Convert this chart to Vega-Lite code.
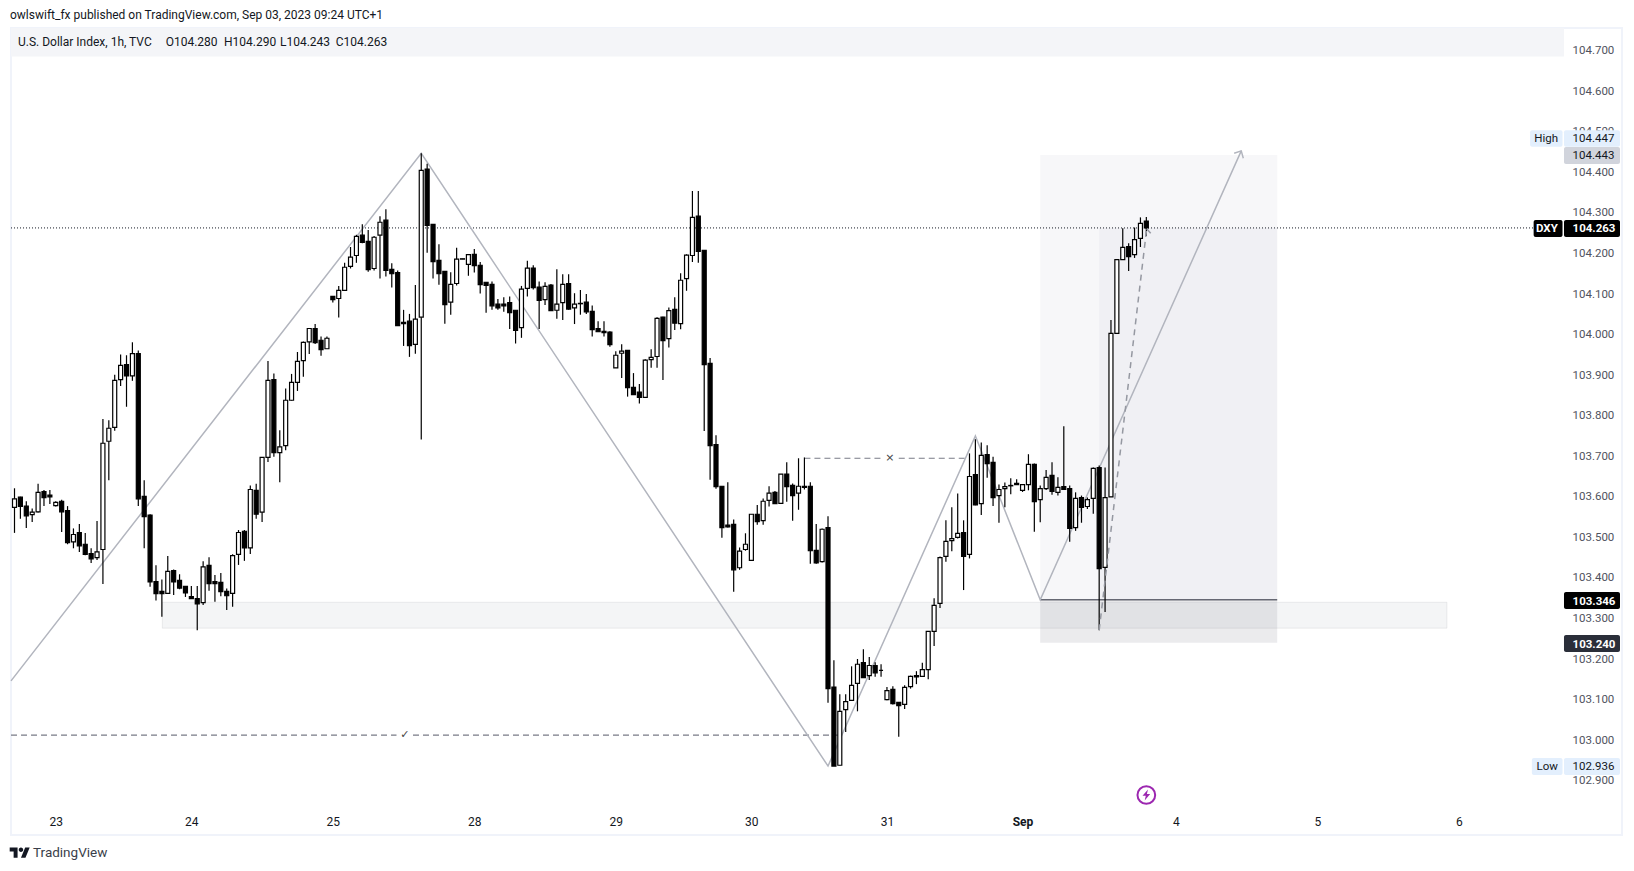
{"$schema":"https://vega.github.io/schema/vega-lite/v6.json","width":1611,"height":807,"autosize":{"type":"none"},"padding":{"left":11,"top":28,"right":12,"bottom":36},"background":"#ffffff","config":{"view":{"stroke":"#f0f3fa","strokeWidth":2},"text":{"font":"Roboto"}},
"resolve":{"scale":{"fill":"independent","opacity":"independent"}},
"datasets":{"candles":[
{"t":0,"o":103.574,"h":103.621,"l":103.511,"c":103.595},{"t":1,"o":103.599,"h":103.6,"l":103.546,"c":103.576},{"t":2,"o":103.577,"h":103.589,"l":103.523,"c":103.553},{"t":3,"o":103.556,"h":103.571,"l":103.538,"c":103.562},{"t":4,"o":103.563,"h":103.632,"l":103.561,"c":103.611},{"t":5,"o":103.613,"h":103.617,"l":103.577,"c":103.598},{"t":6,"o":103.604,"h":103.617,"l":103.582,"c":103.6},{"t":7,"o":103.578,"h":103.589,"l":103.576,"c":103.586},{"t":8,"o":103.589,"h":103.593,"l":103.513,"c":103.563},{"t":9,"o":103.566,"h":103.577,"l":103.483,"c":103.487},
{"t":10,"o":103.489,"h":103.522,"l":103.473,"c":103.507},{"t":11,"o":103.512,"h":103.533,"l":103.464,"c":103.479},{"t":12,"o":103.483,"h":103.511,"l":103.456,"c":103.458},{"t":13,"o":103.46,"h":103.473,"l":103.437,"c":103.447},{"t":14,"o":103.45,"h":103.54,"l":103.444,"c":103.464},{"t":15,"o":103.47,"h":103.792,"l":103.385,"c":103.732},{"t":16,"o":103.737,"h":103.789,"l":103.641,"c":103.769},{"t":17,"o":103.771,"h":103.901,"l":103.763,"c":103.887},{"t":18,"o":103.889,"h":103.951,"l":103.873,"c":103.924},{"t":19,"o":103.926,"h":103.949,"l":103.822,"c":103.898},
{"t":20,"o":103.898,"h":103.981,"l":103.886,"c":103.953},{"t":21,"o":103.953,"h":103.961,"l":103.577,"c":103.595},{"t":22,"o":103.601,"h":103.641,"l":103.473,"c":103.551},{"t":23,"o":103.555,"h":103.557,"l":103.378,"c":103.39},{"t":24,"o":103.391,"h":103.431,"l":103.344,"c":103.361},{"t":25,"o":103.367,"h":103.396,"l":103.304,"c":103.361},{"t":26,"o":103.362,"h":103.454,"l":103.36,"c":103.416},{"t":27,"o":103.418,"h":103.421,"l":103.358,"c":103.39},{"t":28,"o":103.394,"h":103.409,"l":103.372,"c":103.375},{"t":29,"o":103.379,"h":103.38,"l":103.353,"c":103.363},
{"t":30,"o":103.354,"h":103.38,"l":103.348,"c":103.349},{"t":31,"o":103.349,"h":103.38,"l":103.271,"c":103.336},{"t":32,"o":103.339,"h":103.441,"l":103.333,"c":103.427},{"t":33,"o":103.431,"h":103.451,"l":103.368,"c":103.386},{"t":34,"o":103.391,"h":103.407,"l":103.341,"c":103.386},{"t":35,"o":103.389,"h":103.412,"l":103.355,"c":103.366},{"t":36,"o":103.367,"h":103.374,"l":103.321,"c":103.356},{"t":37,"o":103.362,"h":103.458,"l":103.329,"c":103.455},{"t":38,"o":103.458,"h":103.518,"l":103.432,"c":103.512},{"t":39,"o":103.515,"h":103.518,"l":103.442,"c":103.474},
{"t":40,"o":103.474,"h":103.628,"l":103.459,"c":103.618},{"t":41,"o":103.616,"h":103.632,"l":103.546,"c":103.557},{"t":42,"o":103.562,"h":103.697,"l":103.538,"c":103.697},{"t":43,"o":103.697,"h":103.935,"l":103.686,"c":103.887},{"t":44,"o":103.889,"h":103.904,"l":103.699,"c":103.709},{"t":45,"o":103.709,"h":103.764,"l":103.636,"c":103.723},{"t":46,"o":103.726,"h":103.867,"l":103.715,"c":103.838},{"t":47,"o":103.838,"h":103.903,"l":103.837,"c":103.882},{"t":48,"o":103.882,"h":103.957,"l":103.861,"c":103.934},{"t":49,"o":103.936,"h":103.983,"l":103.896,"c":103.981},
{"t":50,"o":103.982,"h":104.015,"l":103.952,"c":104.015},{"t":51,"o":104.015,"h":104.026,"l":103.977,"c":103.98},{"t":52,"o":103.986,"h":103.995,"l":103.948,"c":103.963},{"t":53,"o":103.965,"h":103.995,"l":103.965,"c":103.991},{"t":54,"o":104.094,"h":104.094,"l":104.079,"c":104.086},{"t":55,"o":104.089,"h":104.12,"l":104.042,"c":104.109},{"t":56,"o":104.109,"h":104.177,"l":104.108,"c":104.166},{"t":57,"o":104.168,"h":104.216,"l":104.163,"c":104.191},{"t":58,"o":104.195,"h":104.246,"l":104.177,"c":104.242},{"t":59,"o":104.245,"h":104.272,"l":104.225,"c":104.227},
{"t":60,"o":104.23,"h":104.258,"l":104.155,"c":104.16},{"t":61,"o":104.163,"h":104.243,"l":104.158,"c":104.24},{"t":62,"o":104.245,"h":104.292,"l":104.138,"c":104.277},{"t":63,"o":104.282,"h":104.309,"l":104.143,"c":104.158},{"t":64,"o":104.161,"h":104.176,"l":104.116,"c":104.15},{"t":65,"o":104.153,"h":104.158,"l":104.022,"c":104.022},{"t":66,"o":104.03,"h":104.061,"l":103.972,"c":104.027},{"t":67,"o":104.033,"h":104.051,"l":103.945,"c":103.973},{"t":68,"o":103.976,"h":104.122,"l":103.953,"c":104.038},{"t":69,"o":104.043,"h":104.447,"l":103.741,"c":104.405},
{"t":70,"o":104.408,"h":104.421,"l":104.202,"c":104.269},{"t":71,"o":104.272,"h":104.272,"l":104.138,"c":104.18},{"t":72,"o":104.183,"h":104.223,"l":104.123,"c":104.15},{"t":73,"o":104.156,"h":104.156,"l":104.027,"c":104.074},{"t":74,"o":104.08,"h":104.154,"l":104.049,"c":104.124},{"t":75,"o":104.126,"h":104.214,"l":104.121,"c":104.186},{"t":76,"o":104.186,"h":104.187,"l":104.186,"c":104.187},{"t":77,"o":104.173,"h":104.197,"l":104.145,"c":104.197},{"t":78,"o":104.198,"h":104.211,"l":104.153,"c":104.17},{"t":79,"o":104.171,"h":104.179,"l":104.101,"c":104.123},
{"t":80,"o":104.129,"h":104.129,"l":104.054,"c":104.121},{"t":81,"o":104.124,"h":104.131,"l":104.061,"c":104.071},{"t":82,"o":104.075,"h":104.088,"l":104.061,"c":104.066},{"t":83,"o":104.075,"h":104.092,"l":104.056,"c":104.071},{"t":84,"o":104.079,"h":104.094,"l":104.014,"c":104.054},{"t":85,"o":104.06,"h":104.06,"l":103.978,"c":104.01},{"t":86,"o":104.017,"h":104.12,"l":103.992,"c":104.112},{"t":87,"o":104.114,"h":104.182,"l":104.094,"c":104.164},{"t":88,"o":104.164,"h":104.171,"l":104.111,"c":104.116},{"t":89,"o":104.117,"h":104.131,"l":104.014,"c":104.084},
{"t":90,"o":104.086,"h":104.129,"l":104.073,"c":104.119},{"t":91,"o":104.122,"h":104.125,"l":104.058,"c":104.059},{"t":92,"o":104.06,"h":104.161,"l":104.039,"c":104.075},{"t":93,"o":104.079,"h":104.149,"l":104.036,"c":104.124},{"t":94,"o":104.126,"h":104.149,"l":104.061,"c":104.063},{"t":95,"o":104.066,"h":104.102,"l":104.026,"c":104.075},{"t":96,"o":104.076,"h":104.11,"l":104.049,"c":104.077},{"t":97,"o":104.08,"h":104.1,"l":104.051,"c":104.056},{"t":98,"o":104.057,"h":104.072,"l":103.995,"c":104.012},{"t":99,"o":104.015,"h":104.033,"l":104.007,"c":104.007},
{"t":100,"o":104.008,"h":104.033,"l":103.995,"c":104.005},{"t":101,"o":104.006,"h":104.008,"l":103.97,"c":103.975},{"t":102,"o":103.918,"h":103.959,"l":103.918,"c":103.949},{"t":103,"o":103.954,"h":103.976,"l":103.893,"c":103.959},{"t":104,"o":103.961,"h":103.961,"l":103.847,"c":103.869},{"t":105,"o":103.87,"h":103.905,"l":103.851,"c":103.852},{"t":106,"o":103.858,"h":103.878,"l":103.83,"c":103.845},{"t":107,"o":103.845,"h":103.939,"l":103.845,"c":103.937},{"t":108,"o":103.938,"h":103.964,"l":103.918,"c":103.944},{"t":109,"o":103.946,"h":104.043,"l":103.918,"c":104.04},
{"t":110,"o":104.043,"h":104.044,"l":103.888,"c":103.985},{"t":111,"o":103.99,"h":104.067,"l":103.968,"c":104.059},{"t":112,"o":104.062,"h":104.092,"l":104.011,"c":104.028},{"t":113,"o":104.027,"h":104.151,"l":104.013,"c":104.134},{"t":114,"o":104.138,"h":104.198,"l":104.108,"c":104.196},{"t":115,"o":104.195,"h":104.354,"l":104.179,"c":104.289},{"t":116,"o":104.292,"h":104.354,"l":104.177,"c":104.205},{"t":117,"o":104.208,"h":104.208,"l":103.762,"c":103.926},{"t":118,"o":103.929,"h":103.942,"l":103.642,"c":103.726},{"t":119,"o":103.729,"h":103.752,"l":103.62,"c":103.625},
{"t":120,"o":103.626,"h":103.626,"l":103.499,"c":103.524},{"t":121,"o":103.53,"h":103.636,"l":103.524,"c":103.526},{"t":122,"o":103.532,"h":103.544,"l":103.366,"c":103.42},{"t":123,"o":103.425,"h":103.475,"l":103.42,"c":103.466},{"t":124,"o":103.47,"h":103.51,"l":103.467,"c":103.483},{"t":125,"o":103.443,"h":103.557,"l":103.443,"c":103.557},{"t":126,"o":103.557,"h":103.58,"l":103.531,"c":103.539},{"t":127,"o":103.541,"h":103.596,"l":103.531,"c":103.589},{"t":128,"o":103.591,"h":103.626,"l":103.576,"c":103.609},{"t":129,"o":103.611,"h":103.614,"l":103.583,"c":103.583},
{"t":130,"o":103.584,"h":103.656,"l":103.584,"c":103.656},{"t":131,"o":103.656,"h":103.685,"l":103.588,"c":103.625},{"t":132,"o":103.628,"h":103.633,"l":103.541,"c":103.603},{"t":133,"o":103.609,"h":103.695,"l":103.568,"c":103.626},{"t":134,"o":103.626,"h":103.697,"l":103.618,"c":103.623},{"t":135,"o":103.626,"h":103.636,"l":103.435,"c":103.467},{"t":136,"o":103.468,"h":103.533,"l":103.435,"c":103.437},{"t":137,"o":103.44,"h":103.522,"l":103.438,"c":103.52},{"t":138,"o":103.524,"h":103.552,"l":103.092,"c":103.127},{"t":139,"o":103.131,"h":103.197,"l":102.936,"c":102.936},
{"t":140,"o":102.938,"h":103.113,"l":102.938,"c":103.071},{"t":141,"o":103.075,"h":103.113,"l":103.02,"c":103.095},{"t":142,"o":103.098,"h":103.182,"l":103.097,"c":103.135},{"t":143,"o":103.14,"h":103.2,"l":103.071,"c":103.187},{"t":144,"o":103.191,"h":103.224,"l":103.154,"c":103.154},{"t":145,"o":103.159,"h":103.205,"l":103.148,"c":103.184},{"t":146,"o":103.184,"h":103.192,"l":103.156,"c":103.166},{"t":147,"o":103.172,"h":103.187,"l":103.156,"c":103.172},{"t":148,"o":103.1,"h":103.131,"l":103.098,"c":103.122},{"t":149,"o":103.125,"h":103.133,"l":103.088,"c":103.09},
{"t":150,"o":103.093,"h":103.093,"l":103.008,"c":103.085},{"t":151,"o":103.088,"h":103.135,"l":103.077,"c":103.13},{"t":152,"o":103.132,"h":103.159,"l":103.127,"c":103.157},{"t":153,"o":103.159,"h":103.17,"l":103.138,"c":103.156},{"t":154,"o":103.157,"h":103.191,"l":103.156,"c":103.174},{"t":155,"o":103.174,"h":103.268,"l":103.15,"c":103.268},{"t":156,"o":103.268,"h":103.35,"l":103.232,"c":103.332},{"t":157,"o":103.337,"h":103.453,"l":103.326,"c":103.45},{"t":158,"o":103.453,"h":103.542,"l":103.44,"c":103.49},{"t":159,"o":103.492,"h":103.574,"l":103.466,"c":103.497},
{"t":160,"o":103.5,"h":103.608,"l":103.497,"c":103.51},{"t":161,"o":103.512,"h":103.542,"l":103.37,"c":103.453},{"t":162,"o":103.458,"h":103.707,"l":103.448,"c":103.65},{"t":163,"o":103.655,"h":103.742,"l":103.579,"c":103.58},{"t":164,"o":103.583,"h":103.734,"l":103.555,"c":103.702},{"t":165,"o":103.704,"h":103.727,"l":103.647,"c":103.682},{"t":166,"o":103.685,"h":103.699,"l":103.577,"c":103.598},{"t":167,"o":103.603,"h":103.63,"l":103.536,"c":103.618},{"t":168,"o":103.62,"h":103.635,"l":103.574,"c":103.625},{"t":169,"o":103.627,"h":103.646,"l":103.606,"c":103.628},
{"t":170,"o":103.633,"h":103.643,"l":103.629,"c":103.63},{"t":171,"o":103.616,"h":103.63,"l":103.612,"c":103.63},{"t":172,"o":103.63,"h":103.705,"l":103.616,"c":103.68},{"t":173,"o":103.68,"h":103.682,"l":103.514,"c":103.588},{"t":174,"o":103.593,"h":103.628,"l":103.537,"c":103.62},{"t":175,"o":103.62,"h":103.666,"l":103.617,"c":103.648},{"t":176,"o":103.653,"h":103.685,"l":103.605,"c":103.613},{"t":177,"o":103.611,"h":103.648,"l":103.603,"c":103.623},{"t":178,"o":103.625,"h":103.774,"l":103.618,"c":103.618},{"t":179,"o":103.62,"h":103.628,"l":103.489,"c":103.522},
{"t":180,"o":103.524,"h":103.611,"l":103.516,"c":103.596},{"t":181,"o":103.598,"h":103.603,"l":103.536,"c":103.574},{"t":182,"o":103.576,"h":103.598,"l":103.57,"c":103.593},{"t":183,"o":103.596,"h":103.672,"l":103.558,"c":103.67},{"t":184,"o":103.672,"h":103.677,"l":103.271,"c":103.423},{"t":185,"o":103.426,"h":103.672,"l":103.316,"c":103.598},{"t":186,"o":103.6,"h":104.036,"l":103.6,"c":104.003},{"t":187,"o":104.003,"h":104.185,"l":104.003,"c":104.185},{"t":188,"o":104.185,"h":104.262,"l":104.185,"c":104.215},{"t":189,"o":104.217,"h":104.225,"l":104.157,"c":104.192},
{"t":190,"o":104.197,"h":104.264,"l":104.189,"c":104.234},{"t":191,"o":104.237,"h":104.289,"l":104.216,"c":104.274},{"t":192,"o":104.28,"h":104.29,"l":104.243,"c":104.263}
],
"zones":[
{"kind":"header","t":-0.59,"t2":262.85,"p":104.756,"p2":104.686},
{"kind":"band","t":25.07,"t2":243,"p":103.34,"p2":103.276},
{"kind":"profit","t":174,"t2":214.2,"p":104.443,"p2":103.346},
{"kind":"progress","t":184,"t2":214.2,"p":104.263,"p2":103.346},
{"kind":"stop","t":174,"t2":214.2,"p":103.346,"p2":103.24}
],
"boxes":[
{"kind":"blue","t":257.1,"t2":262.6,"p":104.504,"p2":104.463},
{"kind":"blue","t":262.85,"t2":272.35,"p":104.504,"p2":104.463},
{"kind":"grey","t":262.85,"t2":272.35,"p":104.4625,"p2":104.4206},
{"kind":"black","t":257.7,"t2":262.6,"p":104.2825,"p2":104.2406},
{"kind":"black","t":262.85,"t2":272.35,"p":104.2825,"p2":104.2406},
{"kind":"black","t":262.85,"t2":272.35,"p":103.365,"p2":103.323},
{"kind":"navy","t":262.85,"t2":272.35,"p":103.259,"p2":103.217},
{"kind":"blue","t":257.4,"t2":262.6,"p":102.956,"p2":102.914},
{"kind":"blue","t":262.85,"t2":272.35,"p":102.956,"p2":102.914}
]},
"encoding":{"x":{"field":"t","type":"quantitative","scale":{"domain":[-0.594,272.69],"nice":false,"zero":false,"padding":0},"title":null,"axis":{"orient":"bottom","offset":-30,"title":null,"grid":false,"domain":false,"ticks":false,"labelFont":"Roboto","labelFontSize":12,"labelColor":"#131722","labelPadding":16,"labelBaseline":"middle","labelFlush":false,"labelOverlap":false,"labelBound":false,"values":[7,30,54,78,102,125,148,171,197,221,245],"labelFontWeight":{"condition":{"test":"datum.value==171","value":"bold"},"value":"normal"},"labelExpr":"datum.value==7?'23':datum.value==30?'24':datum.value==54?'25':datum.value==78?'28':datum.value==102?'29':datum.value==125?'30':datum.value==148?'31':datum.value==171?'Sep':datum.value==197?'4':datum.value==221?'5':'6'"}},"y":{"field":"p","type":"quantitative","scale":{"domain":[102.766,104.756],"nice":false,"zero":false},"title":null,"axis":{"orient":"right","offset":-58,"title":null,"grid":false,"domain":false,"ticks":false,"labelFont":"Roboto","labelFontSize":11.5,"labelColor":"#50535e","labelPadding":8,"labelOverlap":false,"labelBound":false,"labelFlush":false,"format":".3f","values":[102.9,103,103.1,103.2,103.3,103.4,103.5,103.6,103.7,103.8,103.9,104,104.1,104.2,104.3,104.4,104.5,104.6,104.7]}}},
"layer":[
{"data":{"name":"zones"},"mark":{"type":"rect"},"encoding":{"x2":{"field":"t2"},"y2":{"field":"p2"},"fill":{"field":"kind","type":"nominal","legend":null,"scale":{"type":"ordinal","domain":["header","band","profit","progress","stop"],"range":["#f4f5f8","#787b86","#6f7a96","#6f7a96","#787b86"]}},"opacity":{"field":"kind","type":"nominal","legend":null,"scale":{"type":"ordinal","domain":["header","band","profit","progress","stop"],"range":[1,0.08,0.06,0.05,0.15]}}}},
{"data":{"values":[{"t":25.07,"t2":243,"p":103.34,"p2":103.276}]},"mark":{"type":"rect","fillOpacity":0,"stroke":"#787b86","strokeOpacity":0.12,"strokeWidth":1},"encoding":{"x2":{"field":"t2"},"y2":{"field":"p2"}}},
{"data":{"values":[{"t":-0.59,"p":104.263},{"t":257.6,"p":104.263}]},"mark":{"type":"line","stroke":"#131722","strokeWidth":1,"strokeDash":[1,2]}},
{"data":{"values":[{"id":"a","t":174,"p":103.346},{"id":"a","t":214.2,"p":103.346}]},"mark":{"type":"line","stroke":"#666873","strokeWidth":1.5}},
{"data":{"values":[{"id":"x1","t":134,"p":103.695},{"id":"x1","t":147,"p":103.695},{"id":"x2","t":150,"p":103.695},{"id":"x2","t":161.6,"p":103.695},{"id":"c1","t":-0.59,"p":103.0125},{"id":"c1","t":64.8,"p":103.0125},{"id":"c2","t":67.6,"p":103.0125},{"id":"c2","t":139.7,"p":103.0125}]},"mark":{"type":"line","stroke":"#787b86","strokeWidth":1.2,"strokeDash":[6,4]},"encoding":{"detail":{"field":"id"}}},
{"data":{"values":[{"id":"zig","t":-0.59,"p":103.146},{"id":"zig","t":69,"p":104.447},{"id":"zig","t":138,"p":102.936},{"id":"zig","t":163,"p":103.75},{"id":"zig","t":174,"p":103.346},{"id":"zig","t":208.1,"p":104.453},{"id":"head","t":206.9,"p":104.447},{"id":"head","t":208.1,"p":104.453},{"id":"head","t":208.45,"p":104.435}]},"mark":{"type":"line","stroke":"#b2b5be","strokeWidth":1.5},"encoding":{"detail":{"field":"id"}}},
{"data":{"name":"candles"},"mark":{"type":"rule","stroke":"#000000","strokeWidth":1.2},"encoding":{"y":{"field":"h","type":"quantitative","scale":{"domain":[102.766,104.756],"nice":false,"zero":false},"title":null,"axis":{"orient":"right","offset":-58,"title":null,"grid":false,"domain":false,"ticks":false,"labelFont":"Roboto","labelFontSize":11.5,"labelColor":"#50535e","labelPadding":8,"labelOverlap":false,"labelBound":false,"labelFlush":false,"format":".3f","values":[102.9,103,103.1,103.2,103.3,103.4,103.5,103.6,103.7,103.8,103.9,104,104.1,104.2,104.3,104.4,104.5,104.6,104.7]}},"y2":{"field":"l"}}},
{"data":{"name":"candles"},"mark":{"type":"bar","size":4,"stroke":"#000000","strokeWidth":1.2,"orient":"vertical"},"encoding":{"y":{"field":"o","type":"quantitative","scale":{"domain":[102.766,104.756],"nice":false,"zero":false},"title":null,"axis":{"orient":"right","offset":-58,"title":null,"grid":false,"domain":false,"ticks":false,"labelFont":"Roboto","labelFontSize":11.5,"labelColor":"#50535e","labelPadding":8,"labelOverlap":false,"labelBound":false,"labelFlush":false,"format":".3f","values":[102.9,103,103.1,103.2,103.3,103.4,103.5,103.6,103.7,103.8,103.9,104,104.1,104.2,104.3,104.4,104.5,104.6,104.7]}},"y2":{"field":"c"},"fill":{"condition":{"test":"datum.c>=datum.o","value":"#ffffff"},"value":"#000000"}}},
{"data":{"values":[{"t":184,"p":103.271},{"t":192.06,"p":104.261}]},"mark":{"type":"line","stroke":"#9598a1","strokeWidth":1.5,"strokeDash":[6,5]}},
{"data":{"values":[{"t":192.06,"p":104.261},{"t":192.74,"p":104.25}]},"mark":{"type":"line","stroke":"#9598a1","strokeWidth":1.5}},
{"data":{"name":"boxes"},"mark":{"type":"rect","cornerRadius":2},"encoding":{"x2":{"field":"t2"},"y2":{"field":"p2"},"fill":{"field":"kind","type":"nominal","legend":null,"scale":{"type":"ordinal","domain":["blue","grey","black","navy"],"range":["#e3effd","#d1d4dc","#000000","#2a2e39"]}}}},
{"data":{"values":[{"t":66.2,"p":103.0125,"g":"✓"},{"t":148.5,"p":103.695,"g":"×"}]},"mark":{"type":"text","font":"DejaVu Sans","fontSize":11,"color":"#444444","align":"center","baseline":"middle"},"encoding":{"text":{"field":"g"}}},
{"data":{"values":[
{"t":-0.763,"p":104.788,"s":"owlswift_fx published on TradingView.com, Sep 03, 2023 09:24 UTC+1"},
{"t":0.594,"p":104.7215,"s":"U.S. Dollar Index, 1h, TVC"},{"t":25.65,"p":104.7215,"s":"O104.280"},{"t":35.54,"p":104.7215,"s":"H104.290"},{"t":45.04,"p":104.7215,"s":"L104.243"},{"t":54.49,"p":104.7215,"s":"C104.263"}]},
"mark":{"type":"text","font":"Roboto","fontSize":12,"color":"#131722","align":"left","baseline":"middle"},"encoding":{"text":{"field":"s"}}},
{"data":{"values":[{"t":257.8,"p":104.484,"s":"High"},{"t":264.3,"p":104.484,"s":"104.447"},{"t":264.3,"p":104.442,"s":"104.443"},
{"t":258.2,"p":102.935,"s":"Low"},{"t":264.3,"p":102.935,"s":"102.936"}]},
"mark":{"type":"text","font":"Roboto","fontSize":11.5,"dy":1,"color":"#131722","align":"left","baseline":"middle"},"encoding":{"text":{"field":"s"}}},
{"data":{"values":[{"t":3.14,"p":102.7215,"s":"TradingView"}]},"mark":{"type":"text","font":"Roboto","fontSize":13.5,"color":"#3a3e49","align":"left","baseline":"middle"},"encoding":{"text":{"field":"s"}}},
{"data":{"values":[{"t":258.1,"p":104.262,"s":"DXY"},{"t":264.3,"p":104.262,"s":"104.263"},{"t":264.3,"p":103.344,"s":"103.346"},{"t":264.3,"p":103.238,"s":"103.240"}]},"mark":{"type":"text","font":"Roboto","fontSize":11.5,"dy":1,"fontWeight":"bold","color":"#ffffff","align":"left","baseline":"middle"},"encoding":{"text":{"field":"s"}}},
{"data":{"values":[{"t":0.88,"p":102.7225}]},"mark":{"type":"point","filled":true,"color":"#131722","opacity":1,"size":400,"shape":"M-.211 .507L-.606 .507L-.606 -.113L-1 -.113L-1 -.507L-.211 -.507ZM.577 .507L.127 .507L.549 -.507L1 -.507ZM-.098 -.282a.225 .225 0 1 0 .45 0a.225 .225 0 1 0 -.45 0Z"}},
{"data":{"values":[{"t":192,"p":102.8646}]},"mark":{"type":"point","filled":false,"color":"#9c27b0","opacity":1,"size":314,"strokeWidth":2}},
{"data":{"values":[{"t":192,"p":102.8646}]},"mark":{"type":"point","filled":true,"color":"#9c27b0","opacity":1,"size":121,"shape":"M.3 -1L-.7 .15L-.1 .15L-.3 1L.7 -.2L.1 -.2Z"}}
]}
